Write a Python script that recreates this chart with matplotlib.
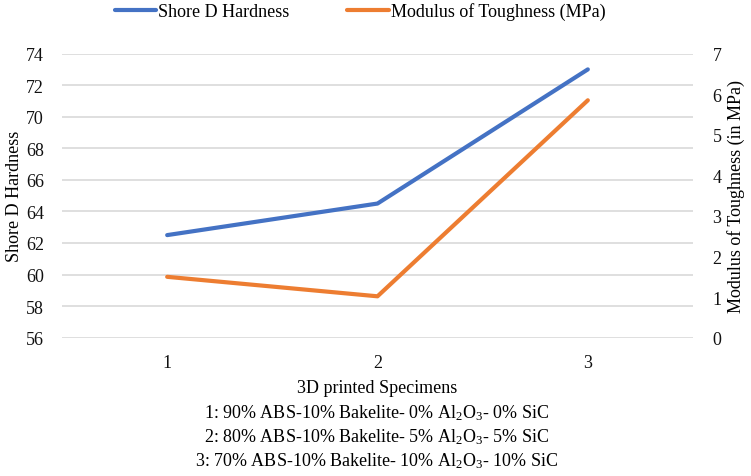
import matplotlib; matplotlib.use("Agg")
import matplotlib.pyplot as plt

plt.rcParams["font.family"] = ["Liberation Serif", "DejaVu Serif"]
plt.rcParams["mathtext.fontset"] = "custom"
plt.rcParams["mathtext.rm"] = "Liberation Serif"
plt.rcParams["mathtext.it"] = "Liberation Serif:italic"

specimens = [1, 2, 3]
hardness = [62.5, 64.5, 73.0]
toughness = [1.5, 1.02, 5.85]
xlabel_lines = [
    "3D printed Specimens",
    r"1: 90% ABS-10% Bakelite- 0% Al$_\mathregular{2}$O$_\mathregular{3}$- 0% SiC",
    r"2: 80% ABS-10% Bakelite- 5% Al$_\mathregular{2}$O$_\mathregular{3}$- 5% SiC",
    r"3: 70% ABS-10% Bakelite- 10% Al$_\mathregular{2}$O$_\mathregular{3}$- 10% SiC",
]
BLUE, ORANGE, GRID = "#4472C4", "#ED7D31", "#D9D9D9"
FS = 13

fig = plt.figure(figsize=(7.51, 4.77), dpi=100)
ax = fig.add_axes([62/751, 1-338.7/477, (693-62)/751, (338.7-54.6)/477])
ax2 = ax.twinx()

l1, = ax.plot(specimens, hardness, color=BLUE, lw=3, solid_capstyle="round", label="Shore D Hardness", zorder=3)
l2, = ax2.plot(specimens, toughness, color=ORANGE, lw=3, solid_capstyle="round", label="Modulus of Toughness (MPa)", zorder=3)

ax.set_xlim(0.5, 3.5)
ax.set_ylim(56, 74); ax.set_yticks(range(56, 75, 2))
ax2.set_ylim(0, 7); ax2.set_yticks(range(0, 8))
ax.set_xticks(specimens)
ax.grid(axis="y", color=GRID, lw=1.2); ax.set_axisbelow(True)
for a in (ax, ax2):
    for s in a.spines.values(): s.set_visible(False)
    a.tick_params(length=0, labelsize=FS, colors="#111111")
ax.tick_params(axis="y", pad=13)
ax.tick_params(axis="x", pad=12)
ax2.tick_params(axis="y", pad=14)
ax.set_ylabel("Shore D Hardness", fontsize=FS, va="center")
ax.yaxis.set_label_coords((15-62)/631, 0.5)
ax2.set_ylabel("Modulus of Toughness (in MPa)", fontsize=FS, va="center")
ax2.yaxis.set_label_coords((736-62)/631, 0.5)

for i, t in enumerate(xlabel_lines):
    fig.text(377/751, 1-(389+i*24)/477, t, ha="center", va="center", fontsize=FS)

fig.legend(handles=[l1, l2], loc="center", bbox_to_anchor=(360/751, 1-12/477), ncol=2,
           frameon=False, fontsize=FS, handlelength=2.3, handletextpad=0.1, columnspacing=3.2)

fig.savefig("out.png", dpi=100)
